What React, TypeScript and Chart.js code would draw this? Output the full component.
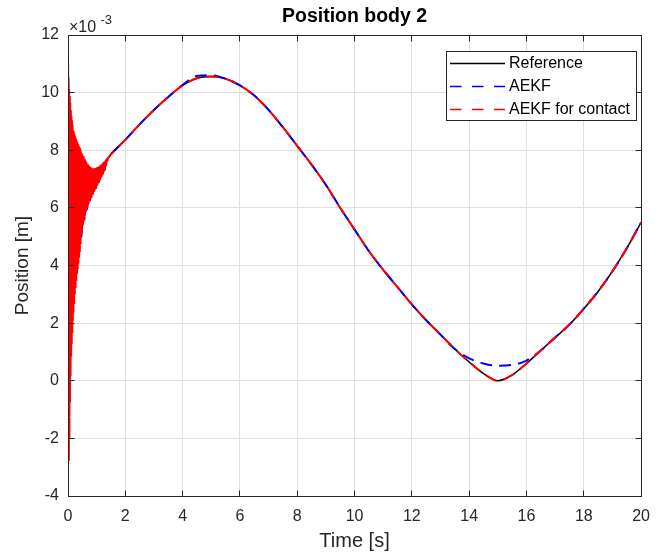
import React, { useEffect, useRef } from 'react';
import { Chart, registerables } from 'chart.js';

Chart.register(...registerables);

// ---- data (values in units of 1e-3 m) ----
const xTicks = [0, 2, 4, 6, 8, 10, 12, 14, 16, 18, 20];
const yTicks = [-4, -2, 0, 2, 4, 6, 8, 10, 12];
const seriesNames = ['Reference', 'AEKF', 'AEKF for contact'];

// early oscillating phase (0 - 1.5 s)
const refEarlyT = [0, 0.01, 0.03, 0.05, 0.1, 0.15, 0.2, 0.25, 0.3, 0.35, 0.4, 0.45, 0.5, 0.55, 0.6, 0.65, 0.7, 0.75, 0.8, 0.85, 0.9, 0.95, 1.0, 1.05, 1.1, 1.15, 1.2, 1.25, 1.3, 1.35, 1.4, 1.45];
const refEarlyV = [0.0, 10.6, -1.8, 9.7, 2.2, 8.9, 3.5, 8.45, 4.2, 8.15, 4.7, 7.9, 5.3, 7.7, 5.75, 7.52, 6.12, 7.4, 6.35, 7.34, 6.56, 7.35, 6.76, 7.4, 6.95, 7.48, 7.15, 7.58, 7.45, 7.68, 7.72, 7.79];

const aekfEarlyT = [0, 0.008, 0.02, 0.04, 0.075, 0.125, 0.175, 0.225, 0.275, 0.325, 0.375, 0.425, 0.475, 0.525, 0.575, 0.625, 0.675, 0.725, 0.775, 0.825, 0.875, 0.925, 0.975, 1.025, 1.075, 1.125, 1.175, 1.225, 1.275, 1.325, 1.375, 1.425, 1.475];
const aekfEarlyV = [-1.0, 10.3, -2.0, 9.9, 1.0, 9.0, 3.2, 8.5, 3.9, 8.2, 4.5, 7.95, 5.0, 7.75, 5.55, 7.56, 5.95, 7.44, 6.25, 7.36, 6.48, 7.35, 6.68, 7.38, 6.88, 7.45, 7.05, 7.55, 7.3, 7.64, 7.68, 7.77, 7.83];

const contactEarlyT = [0, 0.004, 0.012, 0.02, 0.03, 0.04, 0.05, 0.06, 0.07, 0.08, 0.09, 0.1, 0.11, 0.12, 0.13, 0.14, 0.15, 0.16, 0.17, 0.18, 0.19, 0.2, 0.2125, 0.225, 0.2375, 0.25, 0.2625, 0.275, 0.2875, 0.3, 0.3125, 0.325, 0.3375, 0.35, 0.3625, 0.375, 0.3875, 0.4, 0.4125, 0.425, 0.4375, 0.45, 0.475, 0.5, 0.525, 0.55, 0.575, 0.6, 0.625, 0.65, 0.675, 0.7, 0.725, 0.75, 0.775, 0.8, 0.825, 0.85, 0.875, 0.9, 0.925, 0.95, 0.975, 1.0, 1.025, 1.05, 1.075, 1.1, 1.125, 1.15, 1.175, 1.2, 1.225, 1.25, 1.275, 1.3, 1.325, 1.35, 1.375, 1.4, 1.425, 1.45, 1.475];
const contactEarlyV = [5.0, 11.0, -1.0, 10.5, -2.75, 10.1, -2.0, 9.85, -0.7, 9.6, 0.2, 9.35, 0.8, 9.15, 1.3, 9.0, 1.7, 8.85, 2.1, 8.72, 2.4, 8.62, 2.7, 8.52, 3.0, 8.44, 3.25, 8.37, 3.5, 8.3, 3.7, 8.24, 3.9, 8.18, 4.1, 8.13, 4.3, 8.08, 4.5, 8.03, 4.7, 7.97, 5.1, 7.87, 5.4, 7.77, 5.6, 7.67, 5.85, 7.58, 6.02, 7.5, 6.15, 7.44, 6.28, 7.4, 6.38, 7.37, 6.48, 7.36, 6.58, 7.36, 6.68, 7.38, 6.78, 7.41, 6.88, 7.43, 6.98, 7.47, 7.08, 7.52, 7.18, 7.57, 7.3, 7.62, 7.45, 7.67, 7.62, 7.72, 7.77, 7.8, 7.83];

// smooth phase (1.5 - 20 s)
const mainT = [1.5, 2, 2.5, 3, 3.5, 4, 4.5, 5, 5.5, 6, 6.5, 7, 7.5, 8, 8.5, 9, 9.5, 10, 10.5, 11, 11.5, 12, 12.5, 13, 13.5, 14, 14.5, 15, 15.5, 16, 16.5, 17, 17.5, 18, 18.5, 19, 19.5, 20];
const refMainV = [7.86, 8.36, 8.9, 9.4, 9.85, 10.25, 10.5, 10.56, 10.48, 10.25, 9.9, 9.4, 8.8, 8.15, 7.5, 6.8, 6.0, 5.25, 4.5, 3.85, 3.25, 2.65, 2.1, 1.6, 1.1, 0.65, 0.25, 0.0, 0.2, 0.6, 1.05, 1.5, 1.95, 2.5, 3.1, 3.8, 4.6, 5.5];
const aekfMainV = [7.86, 8.36, 8.9, 9.4, 9.85, 10.27, 10.58, 10.6, 10.48, 10.25, 9.9, 9.4, 8.8, 8.15, 7.5, 6.8, 6.0, 5.25, 4.5, 3.85, 3.25, 2.65, 2.1, 1.6, 1.1, 0.78, 0.6, 0.52, 0.55, 0.7, 1.05, 1.5, 1.95, 2.5, 3.1, 3.8, 4.6, 5.5];
const contactMainV = [7.86, 8.36, 8.9, 9.4, 9.85, 10.25, 10.5, 10.56, 10.48, 10.25, 9.9, 9.4, 8.8, 8.15, 7.5, 6.8, 6.0, 5.25, 4.5, 3.85, 3.25, 2.65, 2.1, 1.6, 1.1, 0.65, 0.25, 0.0, 0.2, 0.6, 1.05, 1.5, 1.95, 2.5, 3.1, 3.8, 4.6, 5.5];

const FONT = '"Liberation Sans", Arial, Helvetica, sans-serif';
const AXIS_COLOR = '#262626';
const BAND_END = 1.4;

function toPoints(ts: number[], vs: number[], mt: number[], mv: number[]) {
  return ts.map((t, i) => ({ x: t, y: vs[i] })).concat(mt.map((t, i) => ({ x: t, y: mv[i] })));
}

const overlay = {
  id: 'overlay',
  afterDraw(chart: any) {
    const ctx = chart.ctx as CanvasRenderingContext2D;
    const { left, right, top, bottom } = chart.chartArea;
    const xs = chart.scales.x;
    const ys = chart.scales.y;
    const al = (p: number) => Math.round(p - 0.5) + 0.5;
    ctx.save();
    ctx.strokeStyle = AXIS_COLOR;
    ctx.lineWidth = 1;
    ctx.setLineDash([]);
    const L = al(left), R = al(right), T = al(top), B = al(bottom);
    ctx.strokeRect(L, T, R - L, B - T);
    ctx.beginPath();
    xTicks.forEach((v) => {
      const px = al(xs.getPixelForValue(v));
      ctx.moveTo(px, B); ctx.lineTo(px, B - 6);
      ctx.moveTo(px, T); ctx.lineTo(px, T + 6);
    });
    yTicks.forEach((v) => {
      const py = al(ys.getPixelForValue(v));
      ctx.moveTo(L, py); ctx.lineTo(L + 6, py);
      ctx.moveTo(R, py); ctx.lineTo(R - 6, py);
    });
    ctx.stroke();

    const cx = (left + right) / 2;
    ctx.fillStyle = '#000';
    ctx.font = `bold 19.5px ${FONT}`;
    ctx.textAlign = 'center';
    ctx.textBaseline = 'alphabetic';
    ctx.fillText('Position body 2', cx, 22);

    ctx.fillStyle = AXIS_COLOR;
    ctx.font = `20px ${FONT}`;
    ctx.fillText('Time [s]', cx, 547);

    ctx.save();
    ctx.translate(28, (top + bottom) / 2);
    ctx.rotate(-Math.PI / 2);
    ctx.font = `19px ${FONT}`;
    ctx.fillText('Position [m]', 0, 0);
    ctx.restore();

    ctx.textAlign = 'left';
    ctx.font = `16px ${FONT}`;
    ctx.fillText('\u00d710', 69, 31.5);
    ctx.font = `13px ${FONT}`;
    ctx.fillText('-3', 100.5, 24);

    const lx = 446.5, ly = 51.5, lw = 190, lh = 69;
    ctx.fillStyle = '#fff';
    ctx.fillRect(lx, ly, lw, lh);
    ctx.strokeStyle = AXIS_COLOR;
    ctx.lineWidth = 1;
    ctx.strokeRect(lx, ly, lw, lh);
    const colors = ['#000000', '#0000ff', '#ff0000'];
    const dashes = [[], [11.5, 10.5], [11.5, 10.5]];
    const rows = [63.5, 86.5, 109.5];
    seriesNames.forEach((name, i) => {
      ctx.beginPath();
      ctx.strokeStyle = colors[i];
      ctx.lineWidth = 1.5;
      ctx.setLineDash(dashes[i]);
      ctx.moveTo(450, rows[i]);
      ctx.lineTo(505, rows[i]);
      ctx.stroke();
      ctx.setLineDash([]);
      ctx.fillStyle = '#000';
      ctx.font = `16px ${FONT}`;
      ctx.textBaseline = 'middle';
      ctx.fillText(name, 509, rows[i] + 0.5);
    });
    ctx.restore();
  },
};

export default function App() {
  const ref = useRef<HTMLCanvasElement | null>(null);
  useEffect(() => {
    document.body.style.margin = '0';
    const canvas = ref.current;
    if (!canvas) return;
    const chart = new Chart(canvas, {
      type: 'line',
      data: {
        datasets: [
          {
            label: seriesNames[0],
            data: toPoints(refEarlyT, refEarlyV, mainT, refMainV),
            borderColor: '#000000',
            borderWidth: 1.5,
            pointRadius: 0,
            cubicInterpolationMode: 'monotone',
            order: 3,
          },
          {
            label: seriesNames[1],
            data: toPoints(aekfEarlyT, aekfEarlyV, mainT, aekfMainV),
            borderColor: '#0000ff',
            borderWidth: 2,
            borderDash: [12, 7],
            pointRadius: 0,
            cubicInterpolationMode: 'monotone',
            order: 2,
          },
          {
            label: seriesNames[2],
            data: toPoints(contactEarlyT, contactEarlyV, mainT, contactMainV),
            borderColor: '#ff0000',
            borderWidth: 2,
            borderDash: [12, 7],
            segment: {
              borderDash: (c: any) => (c.p1.parsed.x < BAND_END ? [18, 3] : [12, 7]),
            },
            pointRadius: 0,
            cubicInterpolationMode: 'monotone',
            order: 1,
          },
        ] as any,
      },
      options: {
        animation: false,
        responsive: false,
        devicePixelRatio: 1,
        layout: { padding: { top: 35, right: 10, left: 0, bottom: 0 } },
        plugins: { legend: { display: false }, title: { display: false }, tooltip: { enabled: false } },
        events: [],
        scales: {
          x: {
            type: 'linear',
            min: 0,
            max: 20,
            afterFit: (s: any) => { s.height = 60; },
            grid: { color: '#dfdfdf', drawTicks: false },
            border: { display: false },
            ticks: {
              stepSize: 2,
              autoSkip: false,
              maxRotation: 0,
              padding: 11,
              color: AXIS_COLOR,
              font: { family: FONT, size: 16 },
            },
          },
          y: {
            type: 'linear',
            min: -4,
            max: 12,
            afterFit: (s: any) => { s.width = 68; },
            grid: { color: '#dfdfdf', drawTicks: false },
            border: { display: false },
            ticks: {
              stepSize: 2,
              autoSkip: false,
              padding: 9,
              color: AXIS_COLOR,
              font: { family: FONT, size: 16 },
            },
          },
        },
      },
      plugins: [overlay],
    });
    return () => chart.destroy();
  }, []);
  return (
    <div style={{ position: 'absolute', left: 0, top: 0, width: 661, height: 556, background: '#fff' }}>
      <canvas ref={ref} width={661} height={556} style={{ width: 661, height: 556, display: 'block' }} />
    </div>
  );
}
